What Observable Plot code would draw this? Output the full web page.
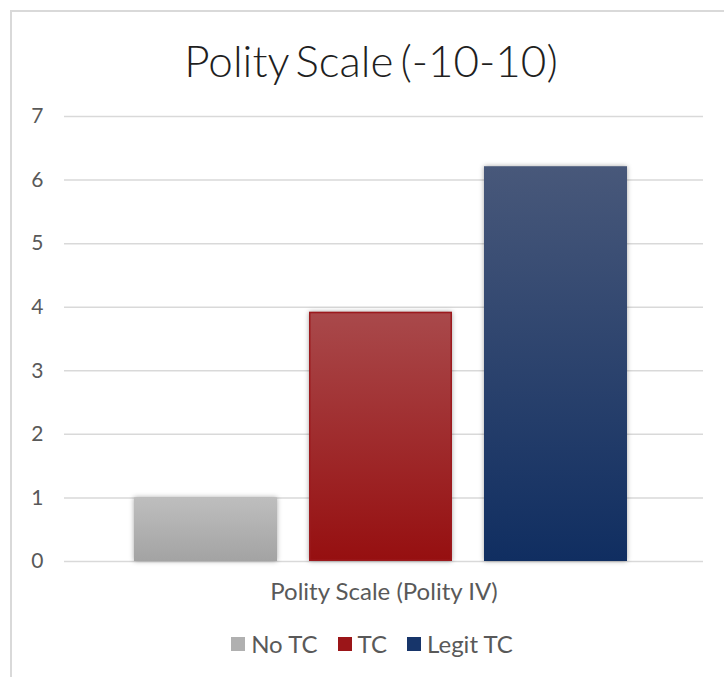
<!DOCTYPE html>
<html>
<head>
<meta charset="utf-8">
<script src="https://cdn.jsdelivr.net/npm/d3@7"></script>
<script src="https://cdn.jsdelivr.net/npm/@observablehq/plot@0.6"></script>
<style>
  html, body { margin: 0; padding: 0; background: #fff; overflow: hidden; width: 724px; height: 677px; }
  body { position: relative; font-family: Lato, "Open Sans", sans-serif; }
  #frame { position: absolute; left: 10px; top: 10px; width: 740px; height: 700px; border-top: 2px solid #d9d9d9; border-left: 2px solid #d9d9d9; }
  #title { position: absolute; left: 0; width: 742px; top: 38px; text-align: center; font-size: 44px; font-weight: 300; color: #1f1f1f; letter-spacing: 0; word-spacing: -5px; line-height: 1; }
  #chart { position: absolute; left: 0; top: 100px; }
  #legend { position: absolute; left: 0; width: 744px; top: 629px; display: flex; justify-content: center; align-items: center; font-size: 24px; color: #595959; }
  .item { display: flex; align-items: center; margin: 0 10px; }
  .sw { width: 14px; height: 14px; margin-right: 6px; }
</style>
</head>
<body>
<div id="frame"></div>
<div id="title">Polity Scale (-10-10)</div>
<div id="chart"></div>
<div id="legend"></div>
<script>
const categories = ["No TC", "TC", "Legit TC"];
const values = [1.0, 3.92, 6.21];
const groupLabel = "Polity Scale (Polity IV)";
const yTicks = [0, 1, 2, 3, 4, 5, 6, 7];
const gradTop = ["#bebebe", "#a9494b", "#48587a"];
const gradBottom = ["#a3a3a3", "#960f10", "#102e61"];
const legendColors = ["#b0b0b0", "#9b1518", "#17356a"];

const data = categories.map((c, i) => ({group: groupLabel, series: c, value: values[i]}));
const gradIds = categories.map((c, i) => `grad${i}`);

const plot = Plot.plot({
  width: 724,
  height: 520,
  marginLeft: 64,
  marginRight: 21,
  marginTop: 16,
  marginBottom: 59,
  style: {fontFamily: "Lato, sans-serif", color: "#595959", background: "transparent"},
  fx: {domain: [groupLabel], padding: 0, label: null},
  x: {domain: categories, paddingInner: 0.185, paddingOuter: 0.413, align: 0.476, axis: null},
  y: {domain: [0, 7], ticks: yTicks, label: null},
  color: {domain: categories, range: gradIds.map(id => `url(#${id})`)},
  marks: [
    Plot.ruleY(yTicks, {stroke: "#d9d9d9", strokeWidth: 1.5}),
    Plot.axisY({ticks: yTicks, tickSize: 0, tickPadding: 21, fontSize: 21, label: null, tickFormat: d => String(d)}),
    Plot.axisFx({anchor: "bottom", tickSize: 0, tickPadding: 21, fontSize: 24, label: null}),
    Plot.barY(data, {fx: "group", x: "series", y: "value", fill: "series", className: "bars"}),
    Plot.barY(data.filter(d => d.series === "TC"), {fx: "group", x: "series", y: "value", fill: "none", stroke: "#9c1a1e", strokeWidth: 1.5, inset: 0.75})
  ]
});

const svg = d3.select(plot);
const defs = svg.insert("defs", ":first-child");
gradIds.forEach((id, i) => {
  const g = defs.append("linearGradient").attr("id", id).attr("x1", 0).attr("y1", 0).attr("x2", 0).attr("y2", 1);
  g.append("stop").attr("offset", "0%").attr("stop-color", gradTop[i]);
  g.append("stop").attr("offset", "100%").attr("stop-color", gradBottom[i]);
});
svg.selectAll(".bars rect").style("filter", "drop-shadow(0px 0px 2.5px rgba(0,0,0,0.35))");
svg.selectAll("text").attr("fill", "#595959");

document.getElementById("chart").appendChild(plot);

const legend = d3.select("#legend");
categories.forEach((c, i) => {
  const it = legend.append("div").attr("class", "item");
  it.append("div").attr("class", "sw").style("background", legendColors[i]);
  it.append("span").text(c);
});
</script>
</body>
</html>
